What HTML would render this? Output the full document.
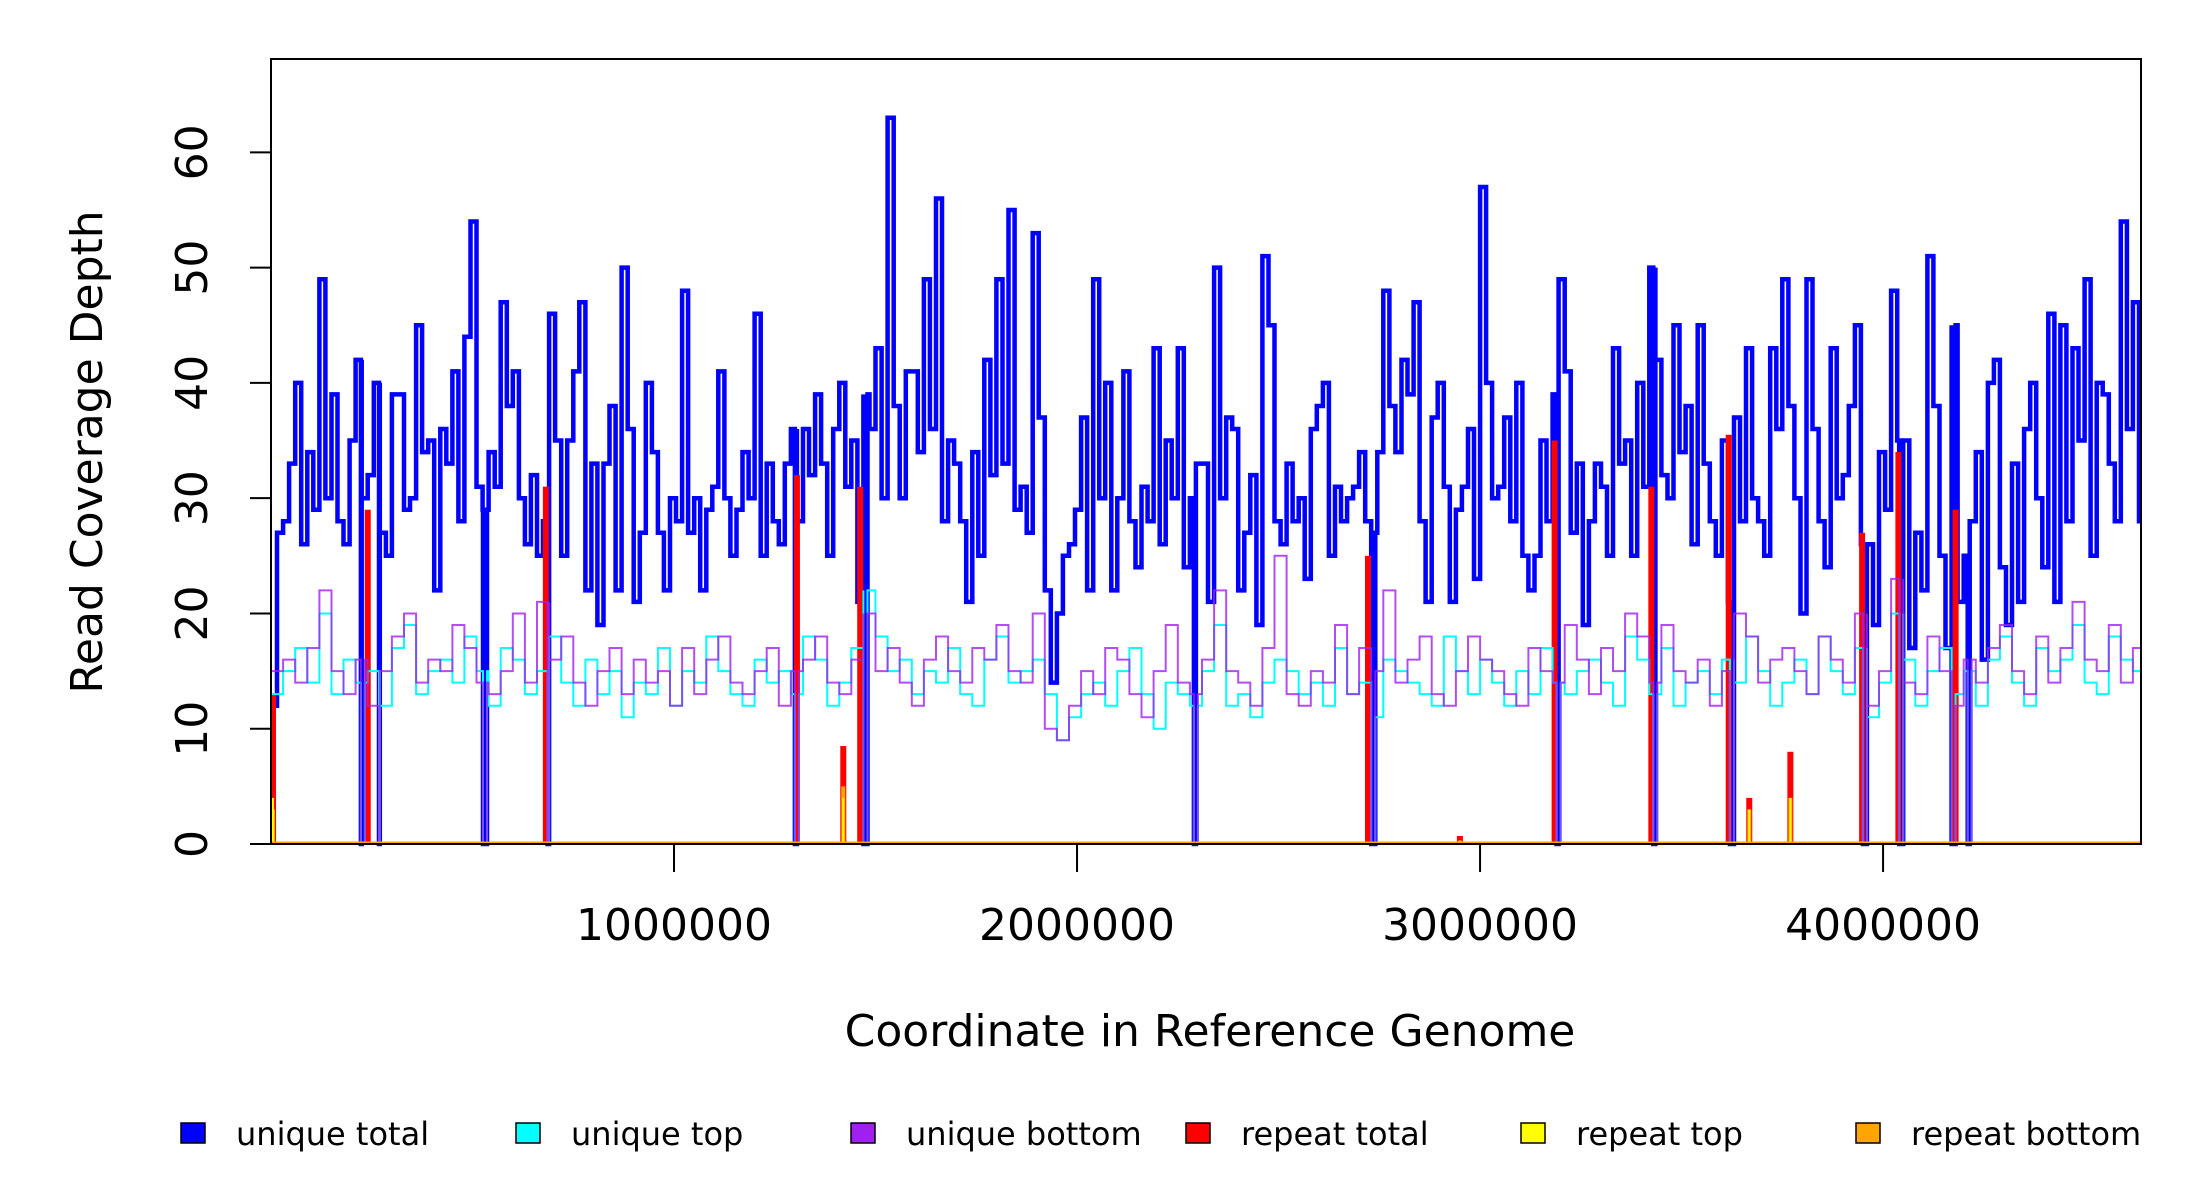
<!DOCTYPE html>
<html><head><meta charset="utf-8"><style>
html,body{margin:0;padding:0;background:#fff;}
svg{display:block;font-family:"DejaVu Sans","Liberation Sans",sans-serif;}
</style></head><body>
<svg id="chart" width="2200" height="1200" viewBox="0 0 2200 1200" xmlns="http://www.w3.org/2000/svg">
<rect x="0" y="0" width="2200" height="1200" fill="#fff"/>
<g id="series"></g>
<rect x="271" y="59" width="1870" height="785" fill="none" stroke="#000" stroke-width="2"/>
<g id="yaxis"></g>
<g id="xaxis"></g>
<text x="102" y="452" font-size="44" text-anchor="middle" transform="rotate(-90 102 452)">Read Coverage Depth</text>
<text x="1210" y="1046" font-size="44" text-anchor="middle">Coordinate in Reference Genome</text>
<g id="legend"></g>
</svg>
<script>
const binSize = 15000;
const sideBinSize = 30000;
const genomeLength = 4640000;
const uniqueTotal = [12,27,28,33,40,26,34,29,49,30,39,28,26,35,42,30,32,40,27,25,39,39,29,30,45,34,35,22,36,33,41,28,44,54,31,29,34,31,47,38,41,30,26,32,25,28,46,35,25,35,41,47,22,33,19,33,38,22,50,36,21,27,40,34,27,22,30,28,48,27,30,22,29,31,41,30,25,29,34,30,46,25,33,28,26,33,36,28,36,32,39,33,25,36,40,31,35,21,39,36,43,30,63,38,30,41,41,34,49,36,56,28,35,33,28,21,34,25,42,32,49,33,55,29,31,27,53,37,22,14,20,25,26,29,37,22,49,30,40,22,30,41,28,24,31,28,43,26,35,30,43,24,30,33,33,21,50,30,37,36,22,27,32,19,51,45,28,26,33,28,30,23,36,38,40,25,31,28,30,31,34,28,27,34,48,38,34,42,39,47,28,21,37,40,31,21,29,31,36,23,57,40,30,31,37,28,40,25,22,25,35,28,39,49,41,27,33,19,28,33,31,25,43,33,35,25,40,31,50,42,32,30,45,34,38,26,45,33,28,25,35,21,37,28,43,30,28,25,43,36,49,38,30,20,49,36,28,24,43,30,32,38,45,26,26,19,34,29,48,35,35,17,27,22,51,38,25,17,45,21,25,28,34,16,40,42,24,19,33,21,36,40,30,24,46,21,45,28,43,35,49,25,40,39,33,28,54,36,47,28];
const uniqueTop = [13,15,17,14,20,13,16,14,15,12,17,19,13,15,16,14,18,15,12,17,16,13,15,18,14,12,16,13,15,11,14,13,17,12,15,14,18,15,13,12,16,14,15,13,18,16,12,14,17,22,18,15,16,13,15,14,17,13,12,16,18,14,15,16,13,9,11,13,14,12,15,17,13,10,14,13,12,15,19,12,13,11,14,16,15,13,14,12,17,13,14,11,16,15,14,13,12,18,15,13,16,14,12,15,13,17,14,13,15,16,14,12,18,16,13,17,12,14,15,13,16,14,18,15,12,14,16,13,18,15,13,17,11,14,20,16,12,15,17,13,15,12,16,18,14,12,17,15,16,19,14,13,18,16,15];
const uniqueBottom = [15,16,14,17,22,15,13,16,12,15,18,20,14,16,15,19,17,14,13,15,20,14,21,16,18,14,12,15,17,13,16,14,15,12,17,13,16,18,14,13,15,17,12,15,16,18,14,13,16,20,15,17,14,12,16,18,15,14,17,16,19,15,14,20,10,9,12,15,13,17,16,13,11,15,19,14,13,16,22,15,14,12,17,25,13,12,15,14,19,13,17,15,22,14,16,18,13,12,15,18,16,15,13,12,17,15,14,19,16,13,17,15,20,18,14,19,15,14,16,12,15,20,18,14,16,17,15,13,18,16,14,20,12,15,23,14,13,18,15,12,16,14,17,19,15,13,18,14,17,21,16,15,19,14,17];
const dropoutPos = [223000,268000,526000,686000,1300000,1470000,2290000,2730000,3190000,3430000,3620000,3950000,4040000,4170000,4210000];
const repeatPos = [5000,240000,682000,1305000,1420000,1462000,2722000,2950000,3185000,3425000,3617000,3668000,3770000,3948000,4038000,4180000];
const repeatTotal = [13,29,31,32,8.5,31,25,0.7,35,31,35.5,4,8,27,34,29];
const repeatTop = [4,0,0,0,4,0,0,0.3,0,0,0,3,4,0,0,0];
const repeatBottom = [3,0,0,0,5,0,0,0.3,0,0,0,3,4,0,0,0];
const yTicks = [0,10,20,30,40,50,60];
const xTicks = [1000000,2000000,3000000,4000000];
const xTickLabels = ["1000000","2000000","3000000","4000000"];
const legendLabels = ["unique total","unique top","unique bottom","repeat total","repeat top","repeat bottom"];
const legendColors = ["#0000ff","#00ffff","#a020f0","#ff0000","#ffff00","#ffa500"];

const NS = "http://www.w3.org/2000/svg";
const X0 = 271, X1 = 2141, Y0 = 844, YT = 59, YMAX = 68.1;
function xs(v){ return X0 + (v/genomeLength)*(X1-X0); }
function ys(v){ return Y0 - (v/YMAX)*(Y0-YT); }
function mk(tag, attrs, parent){
  const e = document.createElementNS(NS, tag);
  for (const k in attrs) e.setAttribute(k, attrs[k]);
  parent.appendChild(e); return e;
}
const series = document.getElementById('series');
const dipW = 10000;
function stepPath(vals, bs){
  let d = "";
  for (let i=0;i<vals.length;i++){
    const s = i*bs;
    if (s >= genomeLength) break;
    const e = Math.min((i+1)*bs, genomeLength);
    const v = vals[i];
    let pts = [[s,v]];
    dropoutPos.forEach(p=>{ if(p>=s && p<e){ const q=Math.min(p+dipW,e); pts.push([p,v],[p,0],[q,0],[q,v]); } });
    pts.push([e,v]);
    pts.forEach(pt=>{ d += (d===""?"M":"L") + xs(pt[0]).toFixed(1) + " " + ys(pt[1]).toFixed(1) + " "; });
  }
  return d;
}
const pBlue = mk('path',{d:stepPath(uniqueTotal, binSize),fill:'none',stroke:'#0000ff','stroke-width':4.5},series);


repeatPos.forEach((p,i)=>{
  const r = mk('rect',{x:xs(p)-3,y:ys(repeatTotal[i]),width:6,height:Math.max(0,Y0-ys(repeatTotal[i])),fill:'#ff0000'},series);
  
  
});
const pCyan = mk('path',{d:stepPath(uniqueTop, sideBinSize),fill:'none',stroke:'#00ffff','stroke-width':2},series);


const pPurp = mk('path',{d:stepPath(uniqueBottom, sideBinSize),fill:'none',stroke:'#a020f0','stroke-width':2,'stroke-opacity':0.8},series);


repeatPos.forEach((p,i)=>{
  if(repeatBottom[i]>0){
    const r = mk('rect',{x:xs(p)-2,y:ys(repeatBottom[i]),width:4,height:Y0-ys(repeatBottom[i]),fill:'#ffa500'},series);
    
    
  }
  if(repeatTop[i]>0){
    const r = mk('rect',{x:xs(p)-1,y:ys(repeatTop[i]),width:2,height:Y0-ys(repeatTop[i]),fill:'#ffff00'},series);
    
    
  }
});
const base = mk('line',{x1:X0,x2:X1,y1:Y0-1,y2:Y0-1,stroke:'#ffa500','stroke-width':3},series);



const yax = document.getElementById('yaxis');
yTicks.forEach(t=>{
  const l = mk('line',{x1:X0-21,x2:X0,y1:ys(t),y2:ys(t),stroke:'#000','stroke-width':2},yax);
  
  
  const tx = mk('text',{x:207,y:ys(t),'font-size':44,'text-anchor':'middle',transform:`rotate(-90 207 ${ys(t)})`},yax);
  tx.textContent = String(t);
  
  
});
const xax = document.getElementById('xaxis');
xTicks.forEach((t,i)=>{
  const l = mk('line',{x1:xs(t),x2:xs(t),y1:Y0,y2:Y0+28,stroke:'#000','stroke-width':2},xax);
  
  
  const tx = mk('text',{x:xs(t),y:940,'font-size':44,'text-anchor':'middle'},xax);
  tx.textContent = xTickLabels[i];
  
  
});
const leg = document.getElementById('legend');
legendLabels.forEach((lab,i)=>{
  const bx = 181 + i*335;
  const r = mk('rect',{x:bx,y:1123,width:24,height:20,fill:legendColors[i],stroke:'#000','stroke-width':1.5},leg);
  
  
  const tx = mk('text',{x:bx+55,y:1145,'font-size':32},leg);
  tx.textContent = lab;
  
  
});
</script>
</body></html>
